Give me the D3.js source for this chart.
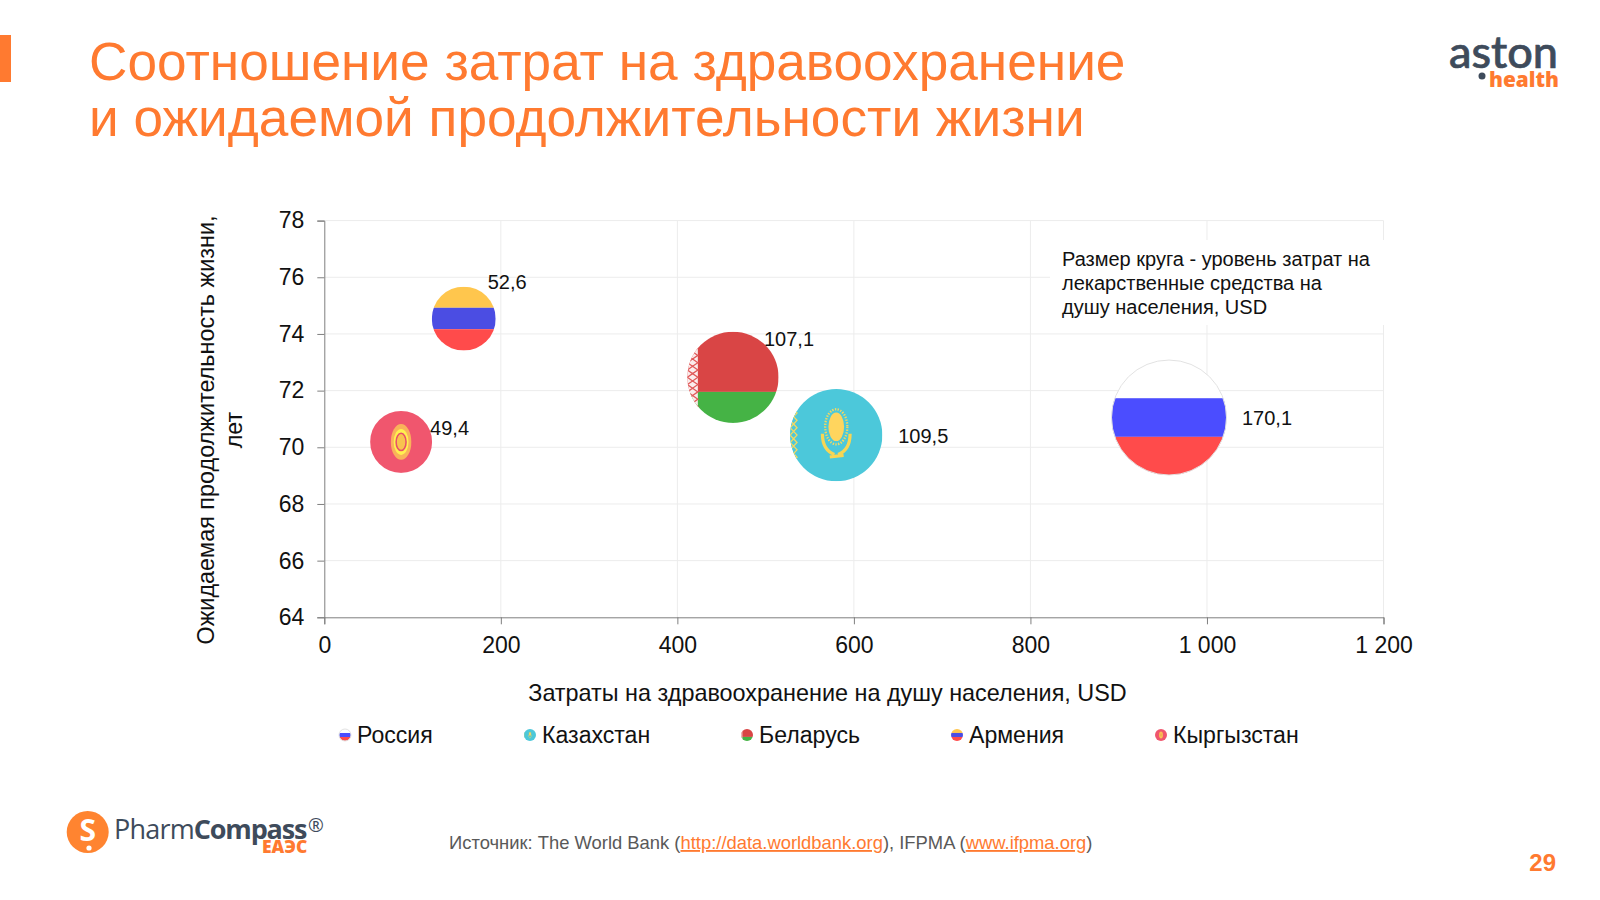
<!DOCTYPE html>
<html lang="ru">
<head>
<meta charset="utf-8">
<script src="https://cdn.jsdelivr.net/npm/d3@7"></script>
<style>
  html, body { margin: 0; background: #fff; }
  svg { display: block; }
  text { font-family: "Liberation Sans", Arial, sans-serif; }
</style>
</head>
<body>
<div id="chart"></div>
<script>
// values
var countries = ['Россия', 'Казахстан', 'Беларусь', 'Армения', 'Кыргызстан'];
var healthSpend = [957, 580, 463, 158, 87];
var lifeExpectancy = [71.05, 70.43, 72.47, 74.54, 70.19];
var drugSpend = [170.1, 109.5, 107.1, 52.6, 49.4];
var xTicks = [0, 200, 400, 600, 800, 1000, 1200];
var yTicks = [64, 66, 68, 70, 72, 74, 76, 78];

var titleLines = ['Соотношение затрат на здравоохранение', 'и ожидаемой продолжительности жизни'];
var noteLines = ['Размер круга - уровень затрат на', 'лекарственные средства на', 'душу населения, USD'];

// layout only
var labelShift = [[73, 7], [62, 8], [31, -31], [24, -30], [29, -7]];
var legendMarkX = [345, 530, 747, 957, 1161];

var ORANGE = '#ff7a30', DARK = '#3e4b5b';

var svg = d3.select('#chart').append('svg')
    .attr('width', 1600)
    .attr('height', 900);

var ru = d3.formatLocale({decimal: ',', thousands: '\u00a0', grouping: [3], currency: ['', '']});

var x = d3.scaleLinear().domain([0, 1200]).range([324.3, 1383.5]);
var y = d3.scaleLinear().domain([64, 78]).range([617.3, 220.6]);
var r = d3.scaleSqrt().domain([0, 170.1]).range([0, 57.5]);

// header
svg.append('rect').attr('x', 0).attr('y', 35).attr('width', 11).attr('height', 47).attr('fill', ORANGE);
svg.selectAll('.title').data(titleLines).enter().append('text')
    .attr('class', 'title')
    .attr('x', 89)
    .attr('y', function(d, i) { return 80 + i * 56; })
    .attr('font-size', 53.2)
    .attr('fill', ORANGE)
    .text(function(d) { return d; });

// grid
svg.append('g').selectAll('line').data(xTicks.slice(1)).enter().append('line')
    .attr('x1', x).attr('x2', x)
    .attr('y1', y(78)).attr('y2', y(64))
    .attr('stroke', '#ececec');
svg.append('g').selectAll('line').data(yTicks.slice(1)).enter().append('line')
    .attr('x1', x(0)).attr('x2', x(1200))
    .attr('y1', y).attr('y2', y)
    .attr('stroke', '#ececec');

// axes
var xAxis = svg.append('g')
    .attr('transform', 'translate(0,' + y(64) + ')')
    .call(d3.axisBottom(x).tickValues(xTicks).tickFormat(ru.format(',')).tickSize(7).tickPadding(12));
var yAxis = svg.append('g')
    .attr('transform', 'translate(' + x(0) + ',0)')
    .call(d3.axisLeft(y).tickValues(yTicks).tickSize(7).tickPadding(13));
[xAxis, yAxis].forEach(function(a) {
    a.selectAll('path, line').attr('stroke', '#7f7f7f');
    a.selectAll('text').attr('font-size', 23).attr('fill', '#111')
        .style('font-family', '"Liberation Sans", Arial, sans-serif');
});

svg.append('text')
    .attr('x', 827.5).attr('y', 701)
    .attr('text-anchor', 'middle')
    .attr('font-size', 23.4).attr('fill', '#111')
    .text('Затраты на здравоохранение на душу населения, USD');
svg.append('text')
    .attr('transform', 'translate(214,430) rotate(-90)')
    .attr('text-anchor', 'middle')
    .attr('font-size', 23.4).attr('fill', '#111')
    .text('Ожидаемая продолжительность жизни,');
svg.append('text')
    .attr('transform', 'translate(242,430) rotate(-90)')
    .attr('text-anchor', 'middle')
    .attr('font-size', 23.4).attr('fill', '#111')
    .text('лет');

// white box of the note sits over the grid
svg.append('rect')
    .attr('x', 1050).attr('y', 240).attr('width', 334).attr('height', 85)
    .attr('fill', '#fff');
svg.selectAll('.note').data(noteLines).enter().append('text')
    .attr('class', 'note')
    .attr('x', 1062)
    .attr('y', function(d, i) { return 266 + i * 24; })
    .attr('font-size', 20)
    .attr('fill', '#111')
    .text(function(d) { return d; });

// flags, drawn in a unit circle and scaled to radius
function stripes(g, colors, cuts) {
    var edges = [-1].concat(cuts, [1]);
    colors.forEach(function(c, i) {
        g.append('rect')
            .attr('x', -1).attr('y', edges[i])
            .attr('width', 2).attr('height', edges[i + 1] - edges[i])
            .attr('fill', c);
    });
}

function ornament(g, x0, x1, bg, fg) {
    g.append('rect').attr('x', -1).attr('y', -1).attr('width', x1 + 1).attr('height', 2).attr('fill', bg);
    d3.range(-0.8, 0.81, 0.16).forEach(function(v) {
        g.append('path')
            .attr('d', 'M' + (x0 + x1) / 2 + ',' + (v - 0.08) + 'L' + x1 + ',' + v + 'L' + (x0 + x1) / 2 + ',' + (v + 0.08) + 'L' + x0 + ',' + v + 'Z')
            .attr('fill', 'none')
            .attr('stroke', fg)
            .attr('stroke-width', 0.028);
    });
}

var flagDrawers = {
    'Россия': function(g) { stripes(g, ['#ffffff', '#4b4dff', '#ff4b4b'], [-0.336, 0.336]); },
    'Армения': function(g) { stripes(g, ['#ffc64d', '#4b4de3', '#ff4b4b'], [-0.34, 0.33]); },
    'Беларусь': function(g) {
        stripes(g, ['#d94545', '#45b345'], [0.32]);
        ornament(g, -1.0, -0.77, '#fbecec', '#e05a5a');
    },
    'Казахстан': function(g) {
        stripes(g, ['#4cc8da'], []);
        ornament(g, -1.0, -0.85, '#4cc8da', '#f5d860');
        g.append('ellipse').attr('cy', -0.18).attr('rx', 0.24).attr('ry', 0.38)
            .attr('fill', 'none').attr('stroke', '#f5d860').attr('stroke-width', 0.05).attr('stroke-dasharray', '0.03 0.03');
        g.append('ellipse').attr('cy', -0.18).attr('rx', 0.17).attr('ry', 0.31).attr('fill', '#ffd55e');
        g.append('path')
            .attr('d', 'M-0.3,-0.03Q-0.3,0.32 -0.04,0.42M0.3,-0.03Q0.3,0.32 0.04,0.42M-0.14,0.47L0.16,0.44')
            .attr('fill', 'none')
            .attr('stroke', '#f7d654')
            .attr('stroke-width', 0.07);
    },
    'Кыргызстан': function(g) {
        stripes(g, ['#f0566e'], []);
        g.append('ellipse').attr('rx', 0.33).attr('ry', 0.58).attr('fill', '#f9b25a');
        g.append('ellipse').attr('rx', 0.24).attr('ry', 0.42).attr('fill', '#fff050');
        g.append('ellipse').attr('rx', 0.16).attr('ry', 0.28).attr('fill', '#f9c24f').attr('stroke', '#e8506a').attr('stroke-width', 0.05);
    }
};

var defs = svg.append('defs');
defs.append('clipPath').attr('id', 'unit')
    .attr('clipPathUnits', 'userSpaceOnUse')
    .append('circle').attr('r', 1);

function drawFlag(parent, name, cx, cy, radius) {
    var g = parent.append('g')
        .attr('transform', 'translate(' + cx + ',' + cy + ') scale(' + radius + ')');
    var inner = g.append('g').attr('clip-path', 'url(#unit)');
    flagDrawers[name](inner);
    if (name == 'Россия') {
        g.append('circle').attr('r', 1).attr('fill', 'none')
            .attr('stroke', '#e2e2e2').attr('stroke-width', 1 / radius);
    }
}

// bubbles
var bubbles = svg.append('g');
countries.forEach(function(name, i) {
    drawFlag(bubbles, name, x(healthSpend[i]), y(lifeExpectancy[i]), r(drugSpend[i]));
});

svg.append('g').selectAll('text').data(drugSpend).enter().append('text')
    .attr('x', function(d, i) { return x(healthSpend[i]) + labelShift[i][0]; })
    .attr('y', function(d, i) { return y(lifeExpectancy[i]) + labelShift[i][1]; })
    .attr('font-size', 20)
    .attr('fill', '#111')
    .text(ru.format('.1f'));

// legend
countries.forEach(function(name, i) {
    drawFlag(svg, name, legendMarkX[i], 735, 6);
    svg.append('text')
        .attr('x', legendMarkX[i] + 12)
        .attr('y', 743)
        .attr('font-size', 23.1)
        .attr('fill', '#111')
        .text(name);
});

// source line
var src = svg.append('text').attr('x', 449).attr('y', 849).attr('font-size', 18.4).attr('fill', '#595959');
src.append('tspan').text('Источник: The World Bank (');
src.append('tspan').attr('fill', ORANGE).attr('text-decoration', 'underline').text('http://data.worldbank.org');
src.append('tspan').text('), IFPMA (');
src.append('tspan').attr('fill', ORANGE).attr('text-decoration', 'underline').text('www.ifpma.org');
src.append('tspan').text(')');

svg.append('text')
    .attr('x', 1556).attr('y', 871)
    .attr('text-anchor', 'end')
    .attr('font-size', 24).attr('font-weight', 700)
    .attr('fill', ORANGE)
    .text('29');

// aston logo
svg.append('text')
    .attr('x', 1449).attr('y', 68)
    .attr('font-size', 45).attr('font-weight', 500)
    .attr('fill', DARK)
    .attr('stroke', DARK).attr('stroke-width', 0.7)
    .style('font-family', 'Lato, sans-serif')
    .text('aston');
svg.append('circle').attr('cx', 1482).attr('cy', 76).attr('r', 3.5).attr('fill', DARK);
svg.append('text')
    .attr('x', 1489).attr('y', 87)
    .attr('font-size', 20.8).attr('font-weight', 800)
    .attr('fill', ORANGE)
    .style('font-family', '"Open Sans", sans-serif')
    .text('health');

// pharmcompass logo
svg.append('circle').attr('cx', 87.7).attr('cy', 832).attr('r', 21).attr('fill', '#ff8430');
svg.append('text')
    .attr('x', 87.7).attr('y', 841)
    .attr('text-anchor', 'middle')
    .attr('font-size', 30).attr('font-weight', 700)
    .attr('fill', '#fff')
    .style('font-family', '"Open Sans", sans-serif')
    .text('S');
svg.append('circle').attr('cx', 89).attr('cy', 848).attr('r', 2.6).attr('fill', '#fff');
var pc = svg.append('text')
    .attr('x', 114).attr('y', 839)
    .attr('font-size', 27)
    .attr('fill', DARK)
    .style('font-family', '"Open Sans", sans-serif')
    .style('letter-spacing', '-0.8px');
pc.append('tspan').attr('font-weight', 500).text('Pharm');
pc.append('tspan').attr('font-weight', 700).style('letter-spacing', '-1.2px').text('Compass');
svg.append('text')
    .attr('x', 308).attr('y', 832)
    .attr('font-size', 19)
    .attr('fill', DARK)
    .style('font-family', '"Open Sans", sans-serif')
    .text('®');
svg.append('text')
    .attr('x', 262).attr('y', 853)
    .attr('font-size', 17.5).attr('font-weight', 800)
    .attr('fill', ORANGE)
    .style('font-family', '"Open Sans", sans-serif')
    .text('ЕАЭС');
</script>
</body>
</html>
